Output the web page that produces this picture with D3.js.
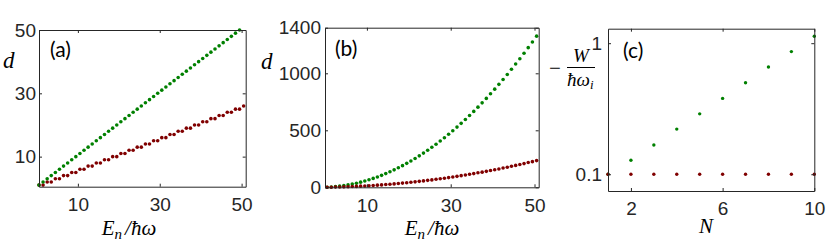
<!DOCTYPE html>
<html>
<head>
<meta charset="utf-8">
<script src="https://cdn.jsdelivr.net/npm/d3@7"></script>
<style>
  body { margin: 0; background: #fff; }
  svg { display: block; }
  .tick text { font-family: "Liberation Sans", Arial, sans-serif; font-size: 19px; fill: #262626; }
  .domain, .tick line { stroke: #262626; }
</style>
</head>
<body>
<svg id="fig" width="830" height="250"></svg>
<script>
// energies E_n / hbar*omega
const energies = [0.5, 1.5, 2.5, 3.5, 4.5, 5.5, 6.5, 7.5, 8.5, 9.5, 10.5, 11.5, 12.5, 13.5, 14.5, 15.5, 16.5,
  17.5, 18.5, 19.5, 20.5, 21.5, 22.5, 23.5, 24.5, 25.5, 26.5, 27.5, 28.5, 29.5, 30.5, 31.5, 32.5, 33.5,
  34.5, 35.5, 36.5, 37.5, 38.5, 39.5, 40.5, 41.5, 42.5, 43.5, 44.5, 45.5, 46.5, 47.5, 48.5, 49.5, 50.5];

// panel (a): degeneracy d
const dAGreen = [1, 2, 3, 4, 5, 6, 7, 8, 9, 10, 11, 12, 13, 14, 15, 16, 17, 18, 19, 20, 21, 22, 23, 24, 25,
  26, 27, 28, 29, 30, 31, 32, 33, 34, 35, 36, 37, 38, 39, 40, 41, 42, 43, 44, 45, 46, 47, 48, 49, 50];
const dARed = [1, 1, 2, 2, 3, 3, 4, 4, 5, 5, 6, 6, 7, 7, 8, 8, 9, 9, 10, 10, 11, 11, 12, 12, 13, 13,
  14, 14, 15, 15, 16, 16, 17, 17, 18, 18, 19, 19, 20, 20, 21, 21, 22, 22, 23, 23, 24, 24, 25, 25, 26];

// panel (b): degeneracy d
const dBGreen = [1, 3, 6, 10, 15, 21, 28, 36, 45, 55, 66, 78, 91, 105, 120, 136, 153, 171, 190, 210, 231,
  253, 276, 300, 325, 351, 378, 406, 435, 465, 496, 528, 561, 595, 630, 666, 703, 741, 780, 820, 861,
  903, 946, 990, 1035, 1081, 1128, 1176, 1225, 1275, 1326];
const dBRed = [1, 1, 2, 3, 4, 5, 7, 8, 10, 12, 14, 16, 19, 21, 24, 27, 30, 33, 37, 40, 44, 48, 52, 56, 61,
  65, 70, 75, 80, 85, 91, 96, 102, 108, 114, 120, 127, 133, 140, 147, 154, 161, 169, 176, 184, 192, 200,
  208, 217, 225, 234];

// panel (c): -W / hbar omega_i vs N
const nValues = [1, 2, 3, 4, 5, 6, 7, 8, 9, 10];
const wGreen = [0.1, 0.128, 0.167, 0.221, 0.289, 0.379, 0.499, 0.659, 0.863, 1.13];
const wRed = [0.1, 0.1, 0.1, 0.1, 0.1, 0.1, 0.1, 0.1, 0.1, 0.1];

const xTicksAB = [10, 30, 50];
const yTicksA = [10, 30, 50];
const yTicksB = [0, 500, 1000, 1400];
const xTicksC = [2, 6, 10];
const yTicksC = [0.1, 1];

const GREEN = '#008000';
const RED = '#800000';
const INK = '#262626';

const svg = d3.select('#fig');

function drawPanel(o) {
  const g = svg.append('g');
  const x = o.x, y = o.y;
  const [xl, xr] = x.range();
  const [yb, yt] = y.range();

  // series
  o.series.forEach(s => {
    g.append('g').selectAll('circle')
      .data(s.xs.map((v, i) => [v, s.ys[i]]))
      .enter().append('circle')
      .attr('cx', d => x(d[0]))
      .attr('cy', d => y(d[1]))
      .attr('r', o.r)
      .attr('fill', s.color);
  });

  // box with inward ticks on all sides
  g.append('g').attr('transform', `translate(0,${yb})`)
    .call(d3.axisBottom(x).tickValues(o.xt).tickFormat(d3.format('~g'))
      .tickSizeInner(-3).tickSizeOuter(0).tickPadding(o.xpad));
  g.append('g').attr('transform', `translate(0,${yt})`)
    .call(d3.axisTop(x).tickValues(o.xt).tickFormat('')
      .tickSizeInner(-3).tickSizeOuter(0));
  g.append('g').attr('transform', `translate(${xl},0)`)
    .call(d3.axisLeft(y).tickValues(o.yt).tickFormat(d3.format('~g'))
      .tickSizeInner(-3).tickSizeOuter(0).tickPadding(o.ypad));
  g.append('g').attr('transform', `translate(${xr},0)`)
    .call(d3.axisRight(y).tickValues(o.yt).tickFormat('')
      .tickSizeInner(-3).tickSizeOuter(0));

  g.selectAll('.domain').attr('stroke', INK).attr('stroke-width', 1);

  g.append('text')
    .attr('x', o.tag[0]).attr('y', o.tag[1])
    .attr('font-family', 'Lato, "Open Sans", sans-serif')
    .attr('font-size', 21).attr('fill', '#000')
    .text(o.tag[2]);
  return g;
}

// (a)
drawPanel({
  x: d3.scaleLinear().domain([0.5, 51]).range([39, 245.7]),
  y: d3.scaleLinear().domain([0.5, 50]).range([186.7, 30]),
  xt: xTicksAB, yt: yTicksA, xpad: 11, ypad: 3, r: 1.8,
  series: [
    { xs: energies, ys: dARed, color: RED },
    { xs: energies.slice(0, dAGreen.length), ys: dAGreen, color: GREEN }
  ],
  tag: [50, 57, '(a)']
});

// (b)
drawPanel({
  x: d3.scaleLinear().domain([0, 51]).range([325, 538.7]),
  y: d3.scaleLinear().domain([0, 1400]).range([187.3, 27.7]),
  xt: xTicksAB, yt: yTicksB, xpad: 11, ypad: 4, r: 1.8,
  series: [
    { xs: energies, ys: dBGreen, color: GREEN },
    { xs: energies, ys: dBRed, color: RED }
  ],
  tag: [335, 56, '(b)']
});

// (c)
drawPanel({
  x: d3.scaleLinear().domain([1, 10]).range([608, 814.3]),
  y: d3.scaleLog().domain([0.0745, 1.29]).range([191, 28.7]),
  xt: xTicksC, yt: yTicksC, xpad: 11, ypad: 6, r: 1.7,
  series: [
    { xs: nValues, ys: wGreen, color: GREEN },
    { xs: nValues, ys: wRed, color: RED }
  ],
  tag: [623, 58, '(c)']
});

// axis titles
const serif = '"Liberation Serif", "DejaVu Serif", serif';
function italic(xp, yp, txt, size) {
  return svg.append('text').attr('x', xp).attr('y', yp)
    .attr('font-family', serif).attr('font-style', 'italic')
    .attr('font-size', size).attr('fill', '#000').text(txt);
}
italic(3, 68, 'd', 23);
italic(261, 69, 'd', 23);

function energyLabel(cx) {
  const t = svg.append('text').attr('x', cx).attr('y', 235)
    .attr('text-anchor', 'middle')
    .attr('font-family', serif).attr('font-style', 'italic')
    .attr('font-size', 21).attr('fill', '#000');
  t.append('tspan').text('E');
  t.append('tspan').attr('font-size', 15).attr('dy', 4).text('n');
  t.append('tspan').attr('dy', -4).attr('dx', 3).text('/ħω');
}
energyLabel(129);
energyLabel(432);

italic(699, 233, 'N', 21);

// -W / (hbar omega_i)
svg.append('text').attr('x', 549).attr('y', 75)
  .attr('font-family', serif).attr('font-size', 21).attr('fill', '#000').text('−');
italic(573, 62, 'W', 19);
svg.append('line').attr('x1', 567).attr('x2', 595).attr('y1', 67.5).attr('y2', 67.5)
  .attr('stroke', '#000').attr('stroke-width', 1);
const den = italic(567, 86, 'ħω', 19);
den.append('tspan').attr('font-size', 13).attr('dy', 3).text('i');
</script>
</body>
</html>
